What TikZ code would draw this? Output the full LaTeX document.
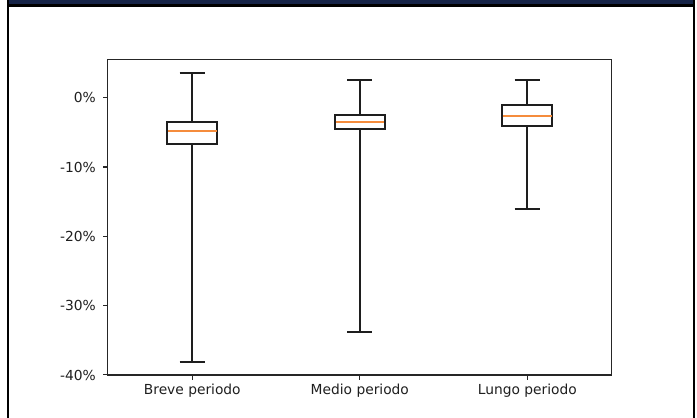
\documentclass[tikz,border=0pt]{standalone}
\usepackage{fontspec}
\setmainfont{DejaVu Sans}
\definecolor{navybar}{RGB}{22,36,72}
\definecolor{medorange}{RGB}{245,140,60}
\definecolor{boxline}{RGB}{30,30,30}
\begin{document}
\begin{tikzpicture}[x=1pt,y=-1pt,
  boxsty/.style={draw=boxline,line width=2pt},
  whisk/.style={draw=boxline,line width=1.9pt},
  medsty/.style={draw=medorange,line width=2pt},
  spine/.style={draw=black!85,line width=1.1pt},
  ticksty/.style={draw=black!85,line width=1.1pt},
  lab/.style={font=\fontsize{13.8}{16}\selectfont,text=black!88,inner sep=0pt}]
\useasboundingbox (0,0) rectangle (697,418);
\fill[white] (0,0) rectangle (697,418);
% frame
\fill[navybar] (7.3,0) rectangle (694.5,4.5);
\draw[black,line width=2.2pt] (8.3,5.4) -- (693.6,5.4);
\draw[black,line width=2.2pt] (8.3,0) -- (8.3,418);
\draw[black,line width=2.2pt] (693.6,0) -- (693.6,418);
% axes
\coordinate (tl) at (107.5,59.3);
\coordinate (br) at (611.3,375);
\draw[spine] (tl) rectangle (br);
% y ticks
\foreach \v/\t in {0/0\%,-10/-10\%,-20/-20\%,-30/-30\%,-40/-40\%}{
  \coordinate (yt\v) at (107.5,{97.7-6.93*\v});
  \draw[ticksty] (yt\v) -- ++(-5,0);
  \node[lab,anchor=east,text depth=0pt] (yl\v) at ([xshift=-11.5pt]yt\v) {\t};
}
% boxes in data coordinates
\begin{scope}[shift={(24.8,97.7)},x=167.5pt,y=6.93pt]
  \foreach \p/\lo/\qa/\md/\qb/\hi/\nm in {
     1/-38.1/-6.75/-4.78/-3.5/3.56/Breve periodo,
     2/-33.75/-4.55/-3.46/-2.45/2.55/Medio periodo,
     3/-16.06/-4.04/-2.64/-1.10/2.55/Lungo periodo}{
    \coordinate (lo\p) at (\p,\lo);
    \coordinate (hi\p) at (\p,\hi);
    \coordinate (qa\p) at (\p,\qa);
    \coordinate (qb\p) at (\p,\qb);
    \draw[whisk] (qa\p) -- (lo\p);
    \draw[whisk] (qb\p) -- (hi\p);
    \draw[whisk] ([xshift=-12.6pt]lo\p) -- ([xshift=12.6pt]lo\p);
    \draw[whisk] ([xshift=-12.6pt]hi\p) -- ([xshift=12.6pt]hi\p);
    \draw[boxsty] (\p-0.15,\qa) rectangle (\p+0.15,\qb);
    \draw[medsty] (\p-0.145,\md) -- (\p+0.145,\md);
    \coordinate (xt\p) at (\p,-40);
    \draw[ticksty] (xt\p) -- ++(0,-0.72);
    \node[lab,anchor=base] (xl\p) at ([yshift=-19.5pt]xt\p) {\nm};
  }
\end{scope}
\end{tikzpicture}
\end{document}
